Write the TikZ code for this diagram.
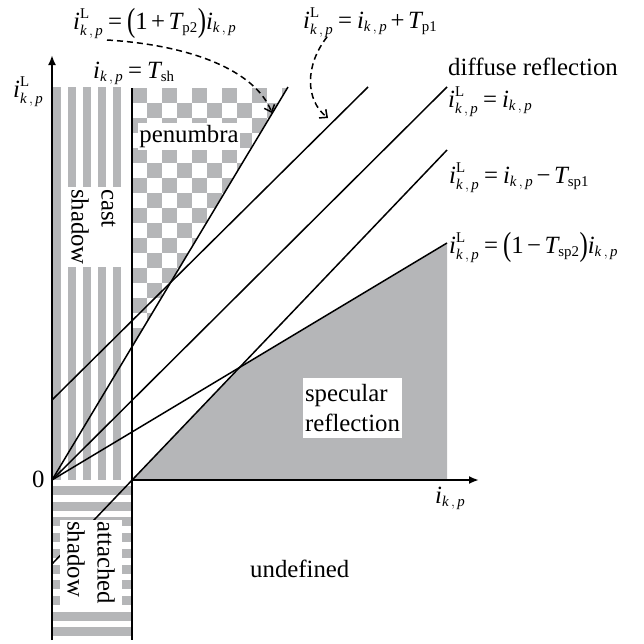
\documentclass[tikz,border=0pt]{standalone}
\usepackage{amsmath}
\usepackage{fontspec}
\setmainfont{Liberation Serif}
\usetikzlibrary{arrows.meta,calc}
\DeclareMathSizes{24.8}{24.8}{14.9}{12}
\definecolor{regiongray}{RGB}{181,182,184}
\thickmuskip=3.5mu
\medmuskip=2.5mu
\newcommand{\ikp}{\textit{i}_{\textit{k}\,,\,\textit{p}}}
\newcommand{\iLkp}{\textit{i}^{\textup{L}}_{\textit{k}\,,\,\textit{p}}}
\newcommand{\eqs}{\mathrel{\textup{=}}}
\newcommand{\pls}{\mathbin{\textup{+}}}
\newcommand{\mns}{\mathbin{\textup{\char"2212}}}
\newcommand{\lpar}{\mathopen{\raisebox{-2pt}{\scalebox{1}[1.35]{\textup{(}}}}}
\newcommand{\rpar}{\mathclose{\raisebox{-2pt}{\scalebox{1}[1.35]{\textup{)}}}}}

\begin{document}
\begin{tikzpicture}[x=1pt,y=-1pt,
  every node/.style={font=\fontsize{24.8}{30}\selectfont,inner sep=0pt},
  axis/.style={line width=2.2pt,-{Latex[length=10pt,width=8pt]}},
  border/.style={line width=2pt},
  ray/.style={line width=1.5pt},
  hint/.style={line width=1.5pt,dash pattern=on 6pt off 4pt,-{Straight Barb[length=6pt,width=11pt]}},
  region/.style={fill=white,align=left}]
  \useasboundingbox (0,0) rectangle (644,643);
  \coordinate (O) at (52,480);
  \coordinate (S) at (132,480);
  \coordinate (xR) at (447,480);
  \coordinate (xEnd) at (479,480);
  \coordinate (yTop) at (52,55);
  \coordinate (yBot) at (52,640);
  \coordinate (shTop) at (132,88);
  \coordinate (shBot) at (132,640);
  \coordinate (p2) at (288,87);
  \coordinate (p1a) at (52,400);
  \coordinate (p1b) at (368,87);
  \coordinate (dr) at (447,87);
  \coordinate (sp1a) at (52,564);
  \coordinate (sp1b) at (447,150);
  \coordinate (sp2) at (447,243);
  \coordinate (C) at (intersection of O--sp2 and sp1a--sp1b);
  \fill[regiongray] (S) -- (xR) -- (sp2) -- (C) -- cycle;
  \foreach \x in {53,68,...,113}
    \fill[regiongray] (\x,87) rectangle (\x+8,480);
  \foreach \k in {0,...,9}
    \fill[regiongray] (53,{486+15.7*\k}) rectangle (131,{495+15.7*\k});
  \begin{scope}
    \clip (shTop) -- (p2) -- (O) -- cycle;
    \foreach \i in {0,2,...,10}
      \foreach \j in {0,2,...,18} {
        \fill[regiongray] ({132+15*\i},{88+15*\j}) rectangle ++(15,15);
        \fill[regiongray] ({147+15*\i},{103+15*\j}) rectangle ++(15,15);
      }
  \end{scope}
  \draw[ray] (O) -- (p2);
  \draw[ray] (p1a) -- (p1b);
  \draw[ray] (O) -- (dr);
  \draw[ray] (sp1a) -- (sp1b);
  \draw[ray] (O) -- (sp2);
  \draw[border] (shTop) -- (shBot);
  \draw[axis] (yBot) -- (yTop);
  \draw[axis] (S) -- (xEnd);
  \node[region,rotate=-90,minimum width=80pt,minimum height=57pt] (cast) at (93.5,227) {cast\\shadow};
  \node[region,rotate=-90,minimum width=85pt,minimum height=62pt] (attached) at (91,562.5) {attached\\shadow};
  \node[region,minimum width=102pt,minimum height=27pt] (penumbra) at (189,136.5) {penumbra};
  \node[region,minimum width=99pt,minimum height=60pt] (specular) at (352.5,408) {specular\\reflection};
  \node[anchor=base west] (undef) at (250,577) {undefined};
  \node[anchor=base west] (diffuse) at (448,75) {diffuse reflection};
  \node[anchor=base west] (eqPtwo) at (73,29) {$\iLkp\eqs\lpar\textup{1}\pls\textit{T}_{\textup{p2}}\rpar\ikp$};
  \node[anchor=base west] (eqSh) at (93,78) {$\ikp\eqs\textit{T}_{\textup{sh}}$};
  \node[anchor=base west] (yLbl) at (13,97) {$\iLkp$};
  \node[anchor=base west] (eqPone) at (303,28) {$\iLkp\eqs\ikp\pls\textit{T}_{\textup{p1}}$};
  \node[anchor=base west] (eqDiff) at (448,107) {$\iLkp\eqs\ikp$};
  \node[anchor=base west] (eqSpone) at (449,183) {$\iLkp\eqs\ikp\mns\textit{T}_{\textup{sp1}}$};
  \node[anchor=base west] (eqSptwo) at (449,253) {$\iLkp\eqs\lpar\textup{1}\mns\textit{T}_{\textup{sp2}}\rpar\ikp$};
  \node[anchor=base west] (zero) at (32,487) {0};
  \node[anchor=base west] (xLbl) at (435,503) {$\ikp$};
  \coordinate (hintA) at (107,40);
  \coordinate (hintAend) at (272,113);
  \coordinate (hintB) at (327,37);
  \coordinate (hintBend) at (328,118);
  \draw[hint] (hintA) .. controls (190,45) and (255,70) .. (hintAend);
  \draw[hint] (hintB) .. controls (305,65) and (305,100) .. (hintBend);
\end{tikzpicture}
\end{document}
